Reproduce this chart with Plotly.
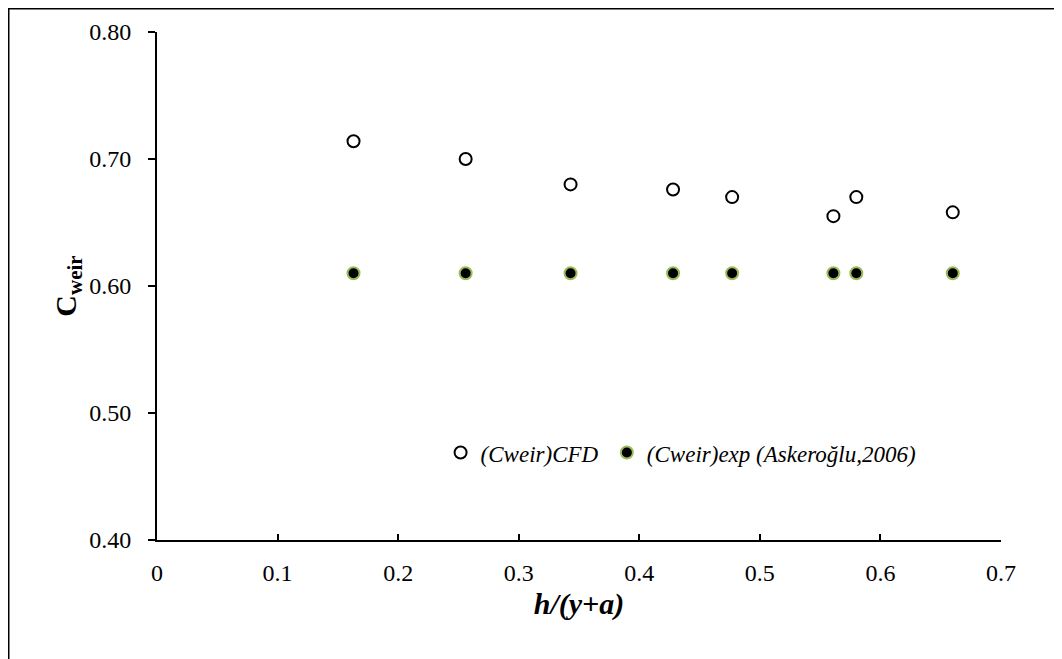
import plotly.graph_objects as go

x_vals = [0.163, 0.256, 0.343, 0.428, 0.477, 0.561, 0.580, 0.660]
cfd_vals = [0.714, 0.700, 0.680, 0.676, 0.670, 0.655, 0.670, 0.658]
exp_vals = [0.61, 0.61, 0.61, 0.61, 0.61, 0.61, 0.61, 0.61]
x_ticks = [0, 0.1, 0.2, 0.3, 0.4, 0.5, 0.6, 0.7]
x_tick_labels = ["0", "0.1", "0.2", "0.3", "0.4", "0.5", "0.6", "0.7"]
y_ticks = [0.40, 0.50, 0.60, 0.70, 0.80]
y_tick_labels = ["0.40", "0.50", "0.60", "0.70", "0.80"]

FONT = "Liberation Serif"
W, H = 1054, 651
L, R, T, B = 149, 61, 24, 119
PW, PH = W - L - R, H - T - B

fig = go.Figure()
fig.add_trace(go.Scatter(
    x=x_vals, y=cfd_vals, mode="markers", name="<i>(Cweir)CFD</i>",
    marker=dict(symbol="circle", size=12, color="white", line=dict(color="black", width=2)),
    legend="legend",
))
fig.add_trace(go.Scatter(
    x=x_vals, y=exp_vals, mode="markers", name="<i>(Cweir)exp (Askeroğlu,2006)</i>",
    marker=dict(symbol="circle", size=12, color="black", line=dict(color="#9BBB59", width=2)),
    legend="legend2",
))

leg_common = dict(orientation="h", yanchor="middle", xanchor="left",
                  bgcolor="rgba(0,0,0,0)", font=dict(family=FONT, size=23, color="black"))

fig.update_layout(
    width=W, height=H,
    margin=dict(l=L, r=R, t=T, b=B),
    paper_bgcolor="white", plot_bgcolor="white",
    font=dict(family=FONT, size=24, color="black"),
    showlegend=True,
    legend=dict(x=0.336, y=0.172, **leg_common),
    legend2=dict(x=0.533, y=0.172, **leg_common),
    xaxis=dict(
        range=[0, 0.7], tickvals=x_ticks, ticktext=x_tick_labels,
        showgrid=False, zeroline=False, showline=True, linecolor="black", linewidth=2,
        ticks="inside", ticklen=6, tickwidth=2, tickcolor="black",
        ticklabelstandoff=10,
        title=dict(text="<b><i>h/(y+a)</i></b>", font=dict(family=FONT, size=30), standoff=8),
    ),
    yaxis=dict(
        range=[0.40, 0.80], tickvals=y_ticks, ticktext=y_tick_labels,
        showgrid=False, zeroline=False, showline=True, linecolor="black", linewidth=2,
        ticks="outside", ticklen=7, tickwidth=2, tickcolor="black",
        ticklabelstandoff=12,
        title=dict(text="<b>C<sub>weir</sub></b>", font=dict(family=FONT, size=30), standoff=4),
    ),
)

fig.add_shape(type="rect", xref="paper", yref="paper",
              x0=(0.75 - L) / PW, x1=1.3, y0=-0.5, y1=(PH + T - 0.75) / PH,
              line=dict(color="black", width=1.5), fillcolor="rgba(0,0,0,0)", layer="below")

fig.write_html("out.html")
